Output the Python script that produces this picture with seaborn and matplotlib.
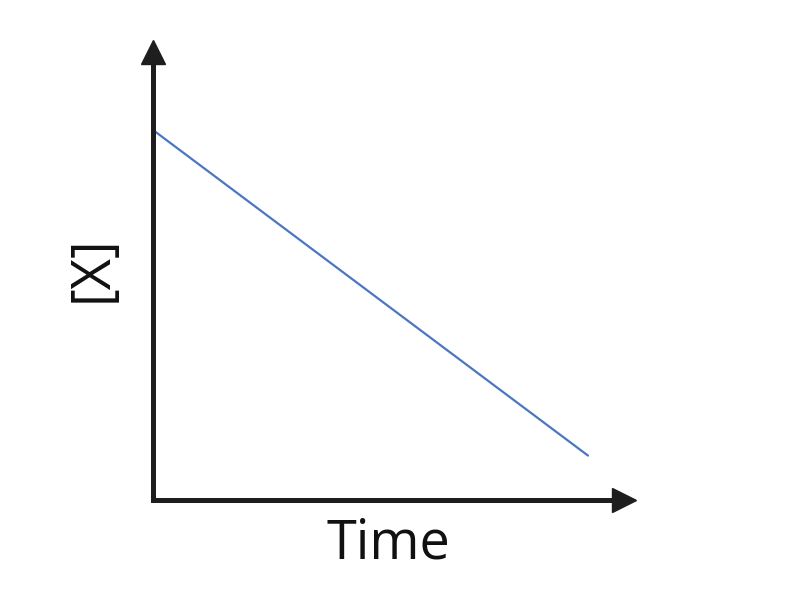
import matplotlib
matplotlib.use("Agg")
import matplotlib.pyplot as plt
import seaborn as sns
import pandas as pd

# ==========================================
# DATA
# ==========================================

time = [0, 10]
conc = [10, 1.2]

df = pd.DataFrame({"Time": time, "[X]": conc})

# ==========================================
# PLOT
# ==========================================

sns.set_style("white")
plt.rcParams['font.family'] = ['Open Sans', 'DejaVu Sans']

fig = plt.figure(figsize=(7.94, 5.90), dpi=100)
ax = fig.add_axes([153 / 794, 90 / 590, 471 / 794, 448 / 590])

sns.lineplot(data=df, x="Time", y="[X]", ax=ax, color="#4a76c2", linewidth=1.6)

ax.set_xlim(0, 471 / 43.5)
ax.set_ylim(0, 448 / 37)

for side in ["top", "right"]:
    ax.spines[side].set_visible(False)
for side in ["left", "bottom"]:
    ax.spines[side].set_linewidth(3.6)
    ax.spines[side].set_color("#1e1e1e")
    ax.spines[side].set_capstyle("projecting")

ax.set_xticks([])
ax.set_yticks([])

# arrow heads
ax.plot(1, 0, ">", color="#1e1e1e", markersize=17,
        transform=ax.get_yaxis_transform(), clip_on=False)
ax.plot(0, 1, "^", color="#1e1e1e", markersize=17,
        transform=ax.get_xaxis_transform(), clip_on=False)

ax.set_xlabel("Time", fontsize=39, labelpad=12, color="#111111")
ax.set_ylabel("[X]", fontsize=39, labelpad=24, color="#111111")
ax.yaxis.label.set_y(0.516)

fig.savefig("out.png", dpi=100)
